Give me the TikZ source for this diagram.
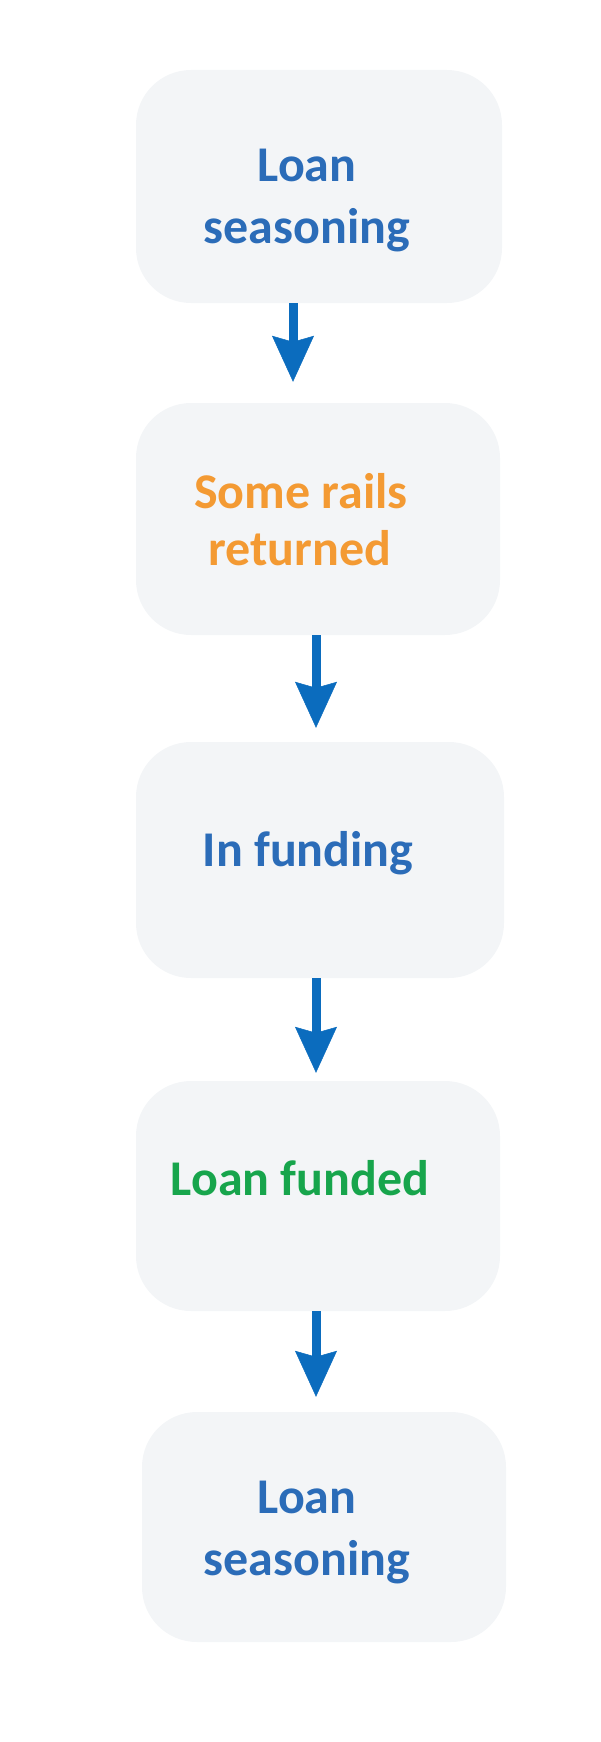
\documentclass[tikz,border=0pt]{standalone}
\usepackage{fontspec}
\setmainfont{Carlito}
\usetikzlibrary{arrows.meta}
\definecolor{boxfill}{HTML}{F3F5F7}
\definecolor{txtblue}{HTML}{2B6CB8}
\definecolor{txtorange}{HTML}{F39A33}
\definecolor{txtgreen}{HTML}{17A54C}
\definecolor{arrowblue}{HTML}{0B6CBE}
\begin{document}
\begin{tikzpicture}[x=1pt,y=-1pt,
  card/.style={rectangle, rounded corners=55pt, fill=boxfill, inner sep=0pt},
  lbl/.style={anchor=base, inner sep=0pt, font=\fontsize{50}{62}\selectfont\bfseries},
  flow/.style={arrowblue, line width=9pt, -{Stealth[length=46pt,width=42pt,inset=6pt,line width=0.5pt]}}]
\useasboundingbox (0,0) rectangle (600,1742);
\node[card, minimum width=366pt, minimum height=233pt] (b1) at (319,186.5) {};
\node[card, minimum width=364pt, minimum height=232pt] (b2) at (318,519) {};
\node[card, minimum width=368pt, minimum height=236pt] (b3) at (320,860) {};
\node[card, minimum width=364pt, minimum height=230pt] (b4) at (318,1196) {};
\node[card, minimum width=364pt, minimum height=230pt] (b5) at (324,1527) {};
\node[lbl, txtblue] (t1a) at (307,181) {Loan};
\node[lbl, txtblue] (t1b) at (307,243) {seasoning};
\node[lbl, txtorange] (t2a) at (301,508) {Some rails};
\node[lbl, txtorange] (t2b) at (300,565) {returned};
\node[lbl, txtblue] (t3) at (308,866) {In funding};
\node[lbl, txtgreen] (t4) at (300,1195) {Loan funded};
\node[lbl, txtblue] (t5a) at (307,1513) {Loan};
\node[lbl, txtblue] (t5b) at (307,1575) {seasoning};
\coordinate (c1) at (293,0);
\coordinate (c2) at (316,0);
\draw[flow, shorten >=21pt] (b1.south -| c1) -- (b2.north -| c1);
\draw[flow, shorten >=14pt] (b2.south -| c2) -- (b3.north -| c2);
\draw[flow, shorten >=8pt] (b3.south -| c2) -- (b4.north -| c2);
\draw[flow, shorten >=15pt] (b4.south -| c2) -- (b5.north -| c2);
\end{tikzpicture}
\end{document}
